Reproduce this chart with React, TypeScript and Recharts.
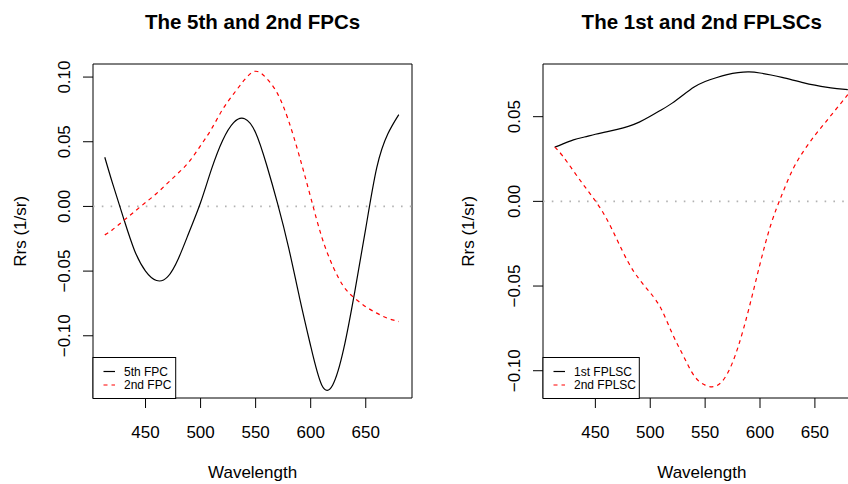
import { LineChart, Line, XAxis, YAxis, ReferenceLine, ReferenceArea } from "recharts";

// wavelengths (nm) shared by all four curves
const wavelengths = [413, 420, 430, 440, 450, 460, 470, 480, 490, 500, 510, 520, 530, 540, 550, 560, 570, 580, 590, 600, 610, 620, 630, 640, 650, 660, 670, 680];

// left panel: 5th and 2nd FPCs
const fpc5 = [0.038, 0.018, -0.009, -0.034, -0.05, -0.0573, -0.0545, -0.04, -0.019, 0.003, 0.029, 0.051, 0.0648, 0.0678, 0.057, 0.032, 0.002, -0.032, -0.071, -0.108, -0.138, -0.138, -0.11, -0.066, -0.017, 0.03, 0.056, 0.071];
const fpc2 = [-0.022, -0.018, -0.011, -0.004, 0.003, 0.01, 0.018, 0.026, 0.035, 0.047, 0.06, 0.075, 0.087, 0.098, 0.1045, 0.099, 0.087, 0.066, 0.038, 0.007, -0.0235, -0.046, -0.062, -0.071, -0.0775, -0.0825, -0.0865, -0.089];

// right panel: 1st and 2nd FPLSCs
const fplsc1 = [0.032, 0.0338, 0.0363, 0.038, 0.0396, 0.041, 0.0425, 0.0443, 0.0468, 0.0502, 0.054, 0.058, 0.0628, 0.0675, 0.0708, 0.073, 0.0748, 0.076, 0.0764, 0.0758, 0.0746, 0.0732, 0.0716, 0.07, 0.0686, 0.0674, 0.0666, 0.066];
const fplsc2 = [0.032, 0.027, 0.018, 0.009, 0.0003, -0.01, -0.023, -0.036, -0.046, -0.054, -0.0635, -0.078, -0.091, -0.103, -0.1085, -0.109, -0.102, -0.086, -0.063, -0.037, -0.0135, 0.004, 0.019, 0.03, 0.039, 0.047, 0.055, 0.063];

const xTicks = [450, 500, 550, 600, 650];
const leftYTicks = [-0.1, -0.05, 0, 0.05, 0.1];
const rightYTicks = [-0.1, -0.05, 0, 0.05];

const leftData = wavelengths.map((w, i) => ({ w, a: fpc5[i], b: fpc2[i] }));
const rightData = wavelengths.map((w, i) => ({ w, a: fplsc1[i], b: fplsc2[i] }));

const FONT = '"Liberation Sans", Arial, Helvetica, sans-serif';
const X_DOMAIN = [402.3, 692];

const fmt = (v: number) => v.toFixed(2).replace("-", "\u2212");

const makeYTick = (baseX: number) => (props: any) => {
  const { y, payload } = props;
  return (
    <text transform={`translate(${baseX},${y}) rotate(-90)`} textAnchor="middle" fontSize={17} fontFamily={FONT} fill="#000">
      {fmt(payload.value)}
    </text>
  );
};

const XTick = (props: any) => {
  const { x, payload } = props;
  return (
    <text x={x} y={438} textAnchor="middle" fontSize={17} fontFamily={FONT} fill="#000">
      {payload.value}
    </text>
  );
};

function Panel({ data, yDomain, yTicks, axisW, width, right, leftPos }: any) {
  return (
    <div style={{ position: "absolute", left: leftPos, top: 0 }}>
      <LineChart width={width} height={484} data={data} margin={{ top: 64, right, bottom: 0, left: 0 }}>
        <XAxis dataKey="w" type="number" domain={X_DOMAIN} ticks={xTicks} interval={0} allowDataOverflow
          axisLine={false} tickSize={10} tickLine={{ stroke: "#000" }} tick={XTick} height={86} />
        <YAxis type="number" domain={yDomain} ticks={yTicks} interval={0} allowDataOverflow
          axisLine={false} tickSize={10} tickLine={{ stroke: "#000" }} tick={makeYTick(axisW - 23.3)} width={axisW} />
        <ReferenceLine y={0} stroke="#b2b2b2" strokeWidth={1.6} strokeDasharray="1.6 7.2" />
        <Line dataKey="a" type="natural" stroke="#000" strokeWidth={1.2} dot={false} activeDot={false} isAnimationActive={false} />
        <Line dataKey="b" type="natural" stroke="#ff0000" strokeWidth={1.2} strokeDasharray="4 4" dot={false} activeDot={false} isAnimationActive={false} />
        <ReferenceArea x1={X_DOMAIN[0]} x2={X_DOMAIN[1]} y1={yDomain[0]} y2={yDomain[1]} ifOverflow="visible"
          fill="none" fillOpacity={0} stroke="#000" strokeWidth={1} />
      </LineChart>
    </div>
  );
}

function LegendBox({ x, w, labels }: { x: number; w: number; labels: string[] }) {
  return (
    <g>
      <rect x={x} y={357.5} width={w} height={41} fill="#fff" stroke="#000" strokeWidth={1} />
      <line x1={x + 10.5} x2={x + 22} y1={371.5} y2={371.5} stroke="#000" strokeWidth={1.2} />
      <line x1={x + 10.5} x2={x + 22} y1={385} y2={385} stroke="#ff0000" strokeWidth={1.2} strokeDasharray="4 4" />
      <text x={x + 31} y={375.8} fontSize={12} fontFamily={FONT}>{labels[0]}</text>
      <text x={x + 31} y={389.3} fontSize={12} fontFamily={FONT}>{labels[1]}</text>
    </g>
  );
}

export default function App() {
  return (
    <div style={{ position: "absolute", left: 0, top: 0, width: 848, height: 484, overflow: "hidden", background: "#fff" }}>
      <Panel data={leftData} yDomain={[-0.1481, 0.1101]} yTicks={leftYTicks} axisW={93} width={424} right={12} leftPos={0} />
      <Panel data={rightData} yDomain={[-0.1161, 0.0811]} yTicks={rightYTicks} axisW={119} width={450} right={13} leftPos={424} />
      <svg width={848} height={484} style={{ position: "absolute", left: 0, top: 0, pointerEvents: "none" }}>
        <text x={252.6} y={29} textAnchor="middle" fontSize={20.5} fontWeight="bold" fontFamily={FONT}>The 5th and 2nd FPCs</text>
        <text x={701.8} y={29} textAnchor="middle" fontSize={20.5} fontWeight="bold" fontFamily={FONT}>The 1st and 2nd FPLSCs</text>
        <text x={252.6} y={477.5} textAnchor="middle" fontSize={17} fontFamily={FONT}>Wavelength</text>
        <text x={701.8} y={477.5} textAnchor="middle" fontSize={17} fontFamily={FONT}>Wavelength</text>
        <text transform="translate(25.5,231.3) rotate(-90)" textAnchor="middle" fontSize={17} fontFamily={FONT}>Rrs (1/sr)</text>
        <text transform="translate(474.2,231.3) rotate(-90)" textAnchor="middle" fontSize={17} fontFamily={FONT}>Rrs (1/sr)</text>
        <LegendBox x={93} w={82.7} labels={["5th FPC", "2nd FPC"]} />
        <LegendBox x={543} w={96.3} labels={["1st FPLSC", "2nd FPLSC"]} />
      </svg>
    </div>
  );
}
